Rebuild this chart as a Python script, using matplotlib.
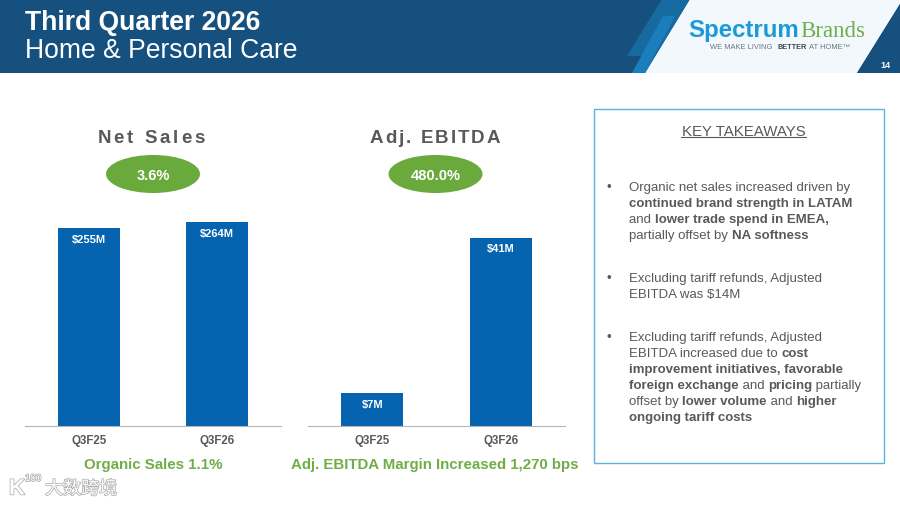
import matplotlib
matplotlib.use('Agg')
import matplotlib.pyplot as plt
from matplotlib.patches import Polygon, Ellipse, Rectangle
from matplotlib.text import Text
from matplotlib.transforms import IdentityTransform
import matplotlib.patheffects as pe

plt.rcParams['font.family'] = ['Liberation Sans', 'DejaVu Sans']

quarters = ['Q3F25', 'Q3F26']
net_sales = [255, 264]
ebitda = [7, 41]
net_labels = ['$255M', '$264M']
ebitda_labels = ['$7M', '$41M']

takeaways = [
    (188, [[('Organic net sales increased driven by', False)],
           [('continued brand strength in LATAM', True)],
           [('and ', False), ('lower trade spend in EMEA,', True)],
           [('partially offset by ', False), ('NA softness', True)]]),
    (279, [[('Excluding tariff refunds, Adjusted', False)],
           [('EBITDA was $14M', False)]]),
    (338, [[('Excluding tariff refunds, Adjusted', False)],
           [('EBITDA increased due to ', False), ('cost', True)],
           [('improvement initiatives, favorable', True)],
           [('foreign exchange', True), (' and ', False), ('pricing', True), (' partially', False)],
           [('offset by ', False), ('lower volume', True), (' and ', False), ('higher', True)],
           [('ongoing tariff costs', True)]]),
]

W, H = 900, 506
NAVY = '#15507f'
BLUE = '#0563b0'
GREEN = '#70ad47'
GREY = '#595959'

fig = plt.figure(figsize=(9, 5.06), dpi=100, facecolor='white')


class SpacedText(Text):
    # matplotlib has no letter spacing, so the letters are drawn one by one
    spacing = 0

    def draw(self, renderer):
        s = self.get_text()
        fp = self.get_fontproperties()
        widths = [renderer.get_text_width_height_descent(s[:i], fp, False)[0] for i in range(len(s) + 1)]
        cx, cy = self.get_transform().transform(self.get_position())
        x0 = cx - (widths[-1] + self.spacing * (len(s) - 1)) / 2
        for i, ch in enumerate(s):
            t = Text(x0 + widths[i] + i * self.spacing, cy, ch, color=self.get_color(),
                     fontproperties=fp, va='center', transform=IdentityTransform())
            t.set_figure(self.get_figure())
            t.draw(renderer)


def spaced_title(ax, x, y, s, spacing):
    t = SpacedText(x, y, s, color=GREY, fontsize=13.5, fontweight='bold', ha='center', va='center')
    t.spacing = spacing
    ax.add_artist(t)


# page decorations are placed in pixel coordinates
bg = fig.add_axes([0, 0, 1, 1])
bg.set_xlim(0, W)
bg.set_ylim(H, 0)
bg.axis('off')

bg.add_patch(Rectangle((0, 0), W, 74, color=NAVY, lw=0))
bg.add_patch(Polygon([(690, 0), (900, 0), (900, 5), (857, 74), (645, 74)], color='#f3f8fc', lw=0))
bg.add_patch(Polygon([(857, 74), (900, 5), (900, 74)], color=NAVY, lw=0))
bg.add_patch(Polygon([(662, 0), (690, 0), (645, 74), (632, 74), (642, 57), (627, 57)], color='#176a9f', lw=0))
bg.add_patch(Polygon([(663, 17), (675, 17), (645, 74), (632, 74)], color='#1a7ebc', lw=0))

bg.text(25, 22.5, 'Third Quarter 2026', color='white', fontsize=19.1, fontweight='bold', va='center')
bg.text(25, 50.5, 'Home & Personal Care', color='white', fontsize=19.1, va='center')
bg.text(885, 65.5, '14', color='white', fontsize=6.5, fontweight='bold', ha='center', va='center')

bg.text(688, 30, 'Spectrum', color='#1b9ad6', fontsize=17.3, fontweight='bold', va='center')
bg.text(800, 31, 'Brands', color='#6fae4e', fontsize=16.5, family='Liberation Serif', va='center')
bg.text(710, 47, 'WE MAKE LIVING', color='#6b7580', fontsize=5.4, va='center')
bg.text(778, 47, 'BETTER', color='#3a4650', fontsize=5.2, fontweight='bold', va='center')
bg.text(809, 47, 'AT HOME\u2122', color='#6b7580', fontsize=5.4, va='center')


def bar_panel(left, right, values, labels, px_per_unit):
    top = 200
    base = 426.5
    ax = fig.add_axes([left / W, 1 - base / H, (right - left) / W, (base - top) / H])
    ax.patch.set_alpha(0)
    bars = ax.bar(range(2), values, width=0.48, color=BLUE)
    ax.set_xlim(-0.5, 1.5)
    ax.set_ylim(0, (base - top) / px_per_unit)
    ax.set_xticks(range(2), quarters)
    ax.set_yticks([])
    for s in ['top', 'left', 'right']:
        ax.spines[s].set_visible(False)
    ax.spines['bottom'].set_color('#b5b5b5')
    ax.tick_params(axis='x', length=0, pad=6, labelsize=8.3, labelcolor=GREY)
    for t in ax.get_xticklabels():
        t.set_fontweight('bold')
    ax.bar_label(bars, labels=labels, label_type='edge', padding=-11.5,
                 color='white', fontsize=8, fontweight='bold')


bar_panel(25, 281, net_sales, net_labels, 197 / 255)
bar_panel(308, 565, ebitda, ebitda_labels, 188 / 41)

spaced_title(bg, 151, 138, 'Net Sales', 2.9)
spaced_title(bg, 435, 138, 'Adj. EBITDA', 2.0)
for cx, txt in [(153, '3.6%'), (435.5, '480.0%')]:
    bg.add_patch(Ellipse((cx, 175), 94, 38, color='#6aaa3c', lw=0))
    bg.text(cx, 176, txt, color='white', fontsize=10.5, fontweight='bold', ha='center', va='center')

bg.text(153, 465, 'Organic Sales 1.1%', color=GREEN, fontsize=10.8, fontweight='bold', ha='center', va='center')
bg.text(435, 465, 'Adj. EBITDA Margin Increased 1,270 bps', color=GREEN, fontsize=10.8,
        fontweight='bold', ha='center', va='center')

# takeaways box
bg.add_patch(Rectangle((594, 110), 290, 354, fc='white', ec='#5bb5d8', lw=1))
bg.text(743.5, 131.5, 'KEY TAKEAWAYS', color=GREY, fontsize=10.8, ha='center', va='center')
bg.plot([681, 806], [138, 138], color=GREY, lw=0.8)

renderer = fig.canvas.get_renderer()
for y0, lines in takeaways:
    bg.text(609, y0, '\u2022', color=GREY, fontsize=9.5, ha='center', va='center')
    for i, runs in enumerate(lines):
        x = 629
        for txt, bold in runs:
            t = bg.text(x, y0 + i * 16, txt, color=GREY, fontsize=9.5,
                        fontweight='bold' if bold else 'normal', va='center')
            x += t.get_window_extent(renderer).width

# watermark
halo = [pe.withStroke(linewidth=1, foreground='#a8a8a8')]
bg.text(17, 490, 'K', color='white', fontsize=16, fontweight='bold', ha='center', va='center', path_effects=halo)
bg.text(33, 479, '100', color='white', fontsize=7, ha='center', va='center', path_effects=halo)
bg.text(81, 490, '大数跨境', color='white', fontsize=13, ha='center', va='center',
        family=['Noto Sans CJK SC', 'DejaVu Sans'], path_effects=halo)

fig.savefig('out.png', dpi=100)
